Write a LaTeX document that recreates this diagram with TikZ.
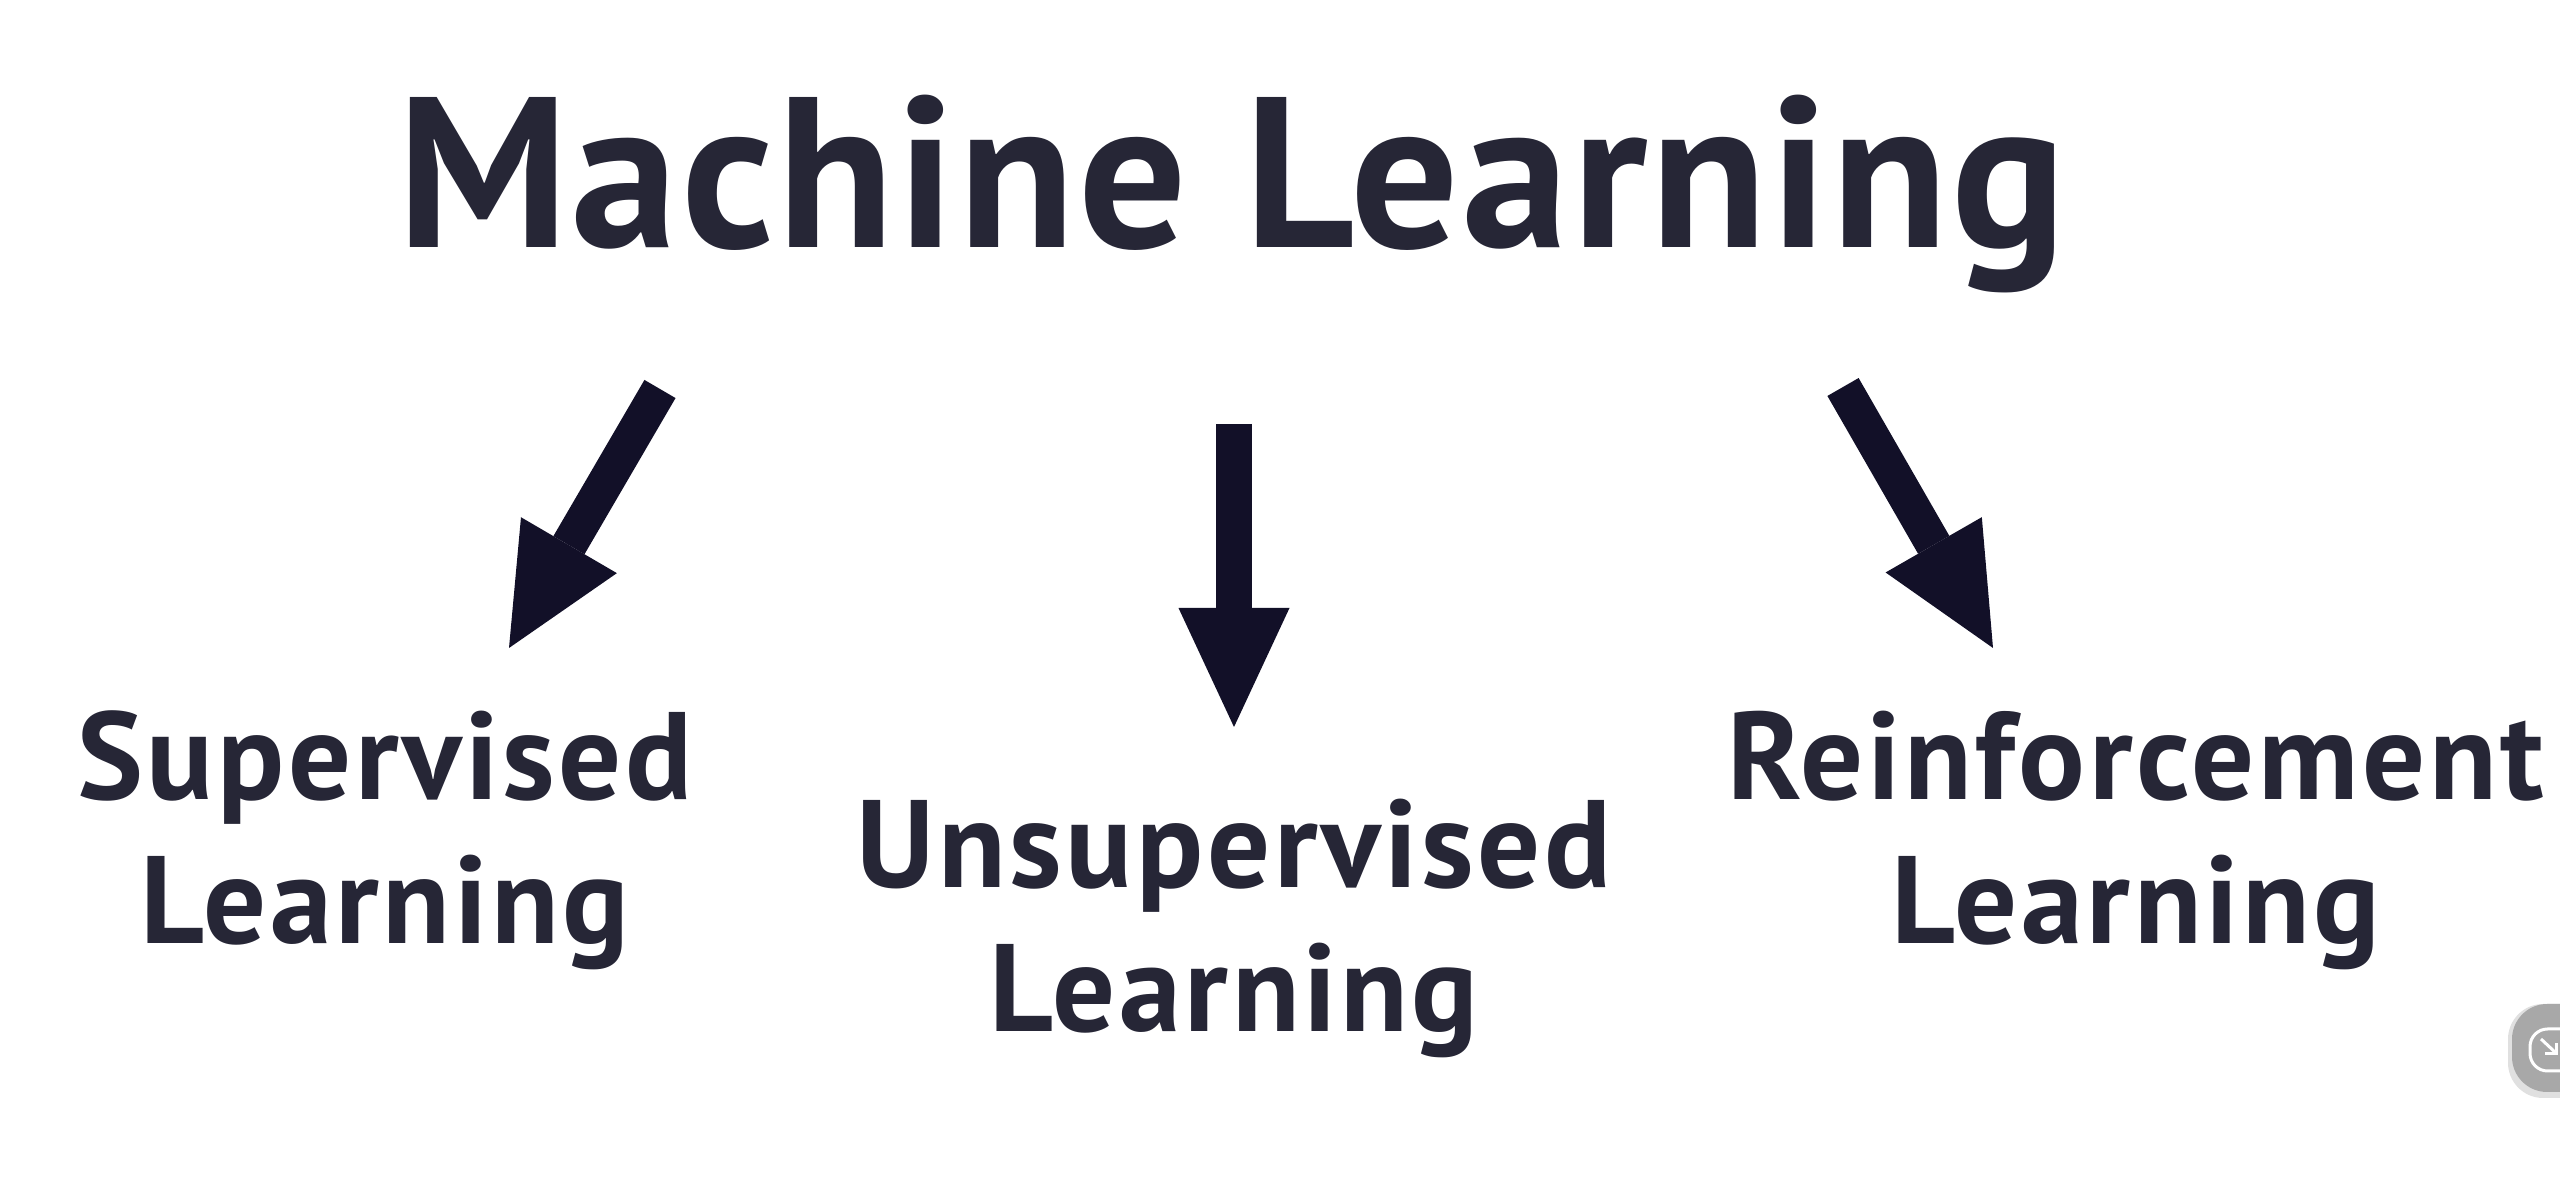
\documentclass[tikz,border=0pt]{standalone}
\usepackage{fontspec}
\setmainfont{PT Sans}
\usetikzlibrary{arrows.meta}
\definecolor{txt}{HTML}{262636}
\definecolor{arr}{HTML}{121028}
\definecolor{icon}{HTML}{A8A8A8}
\begin{document}
\begin{tikzpicture}[x=0.1mm,y=-0.1mm,
  title/.style={font=\fontsize{61}{70}\selectfont\bfseries\addfontfeatures{LetterSpace=1.5}, text=txt, inner sep=0pt, anchor=base},
  sub/.style={font=\fontsize{35.4}{41}\selectfont\bfseries\addfontfeatures{LetterSpace=2.9}, text=txt, inner sep=0pt, align=center, anchor=base},
  fat/.style={draw=arr, line width=3.6mm, -{Triangle[length=11.9mm 0 0, width=11.1mm 0 0, line width=0pt 0 0, fill=arr]}}
]
\fill[white] (0,0) rectangle (2560,1195);
\useasboundingbox (0,0) rectangle (2560,1195);

\node[title] (ml) at (1232,248) {Machine Learning};

\node[sub] (sup) at (385,944) {Supervised\\Learning};
\node[sub] (uns) at (1234,1032) {Unsupervised\\Learning};
\node[sub] (rein) at (2136,944) {Reinforcement\\Learning};

\coordinate (a1s) at (660,389);
\coordinate (a1e) at (509,648);
\coordinate (a2s) at (1234,424);
\coordinate (a2e) at (1234,727);
\coordinate (a3s) at (1843,387);
\coordinate (a3e) at (1993,648);
\draw[fat] (a1s) -- (a1e);
\draw[fat] (a2s) -- (a2e);
\draw[fat] (a3s) -- (a3e);

% corner icon
\fill[black!12, rounded corners=10] (2508,1004) rectangle (2620,1098);
\fill[icon, rounded corners=10] (2512,1004) rectangle (2620,1092);
\draw[white, line width=0.3mm, rounded corners=5] (2530,1029) rectangle (2600,1071);
\draw[white, line width=0.3mm] (2541,1039) -- (2556,1053);
\draw[white, line width=0.3mm] (2545,1054) -- (2556,1054) -- (2556,1043);
\end{tikzpicture}
\end{document}
